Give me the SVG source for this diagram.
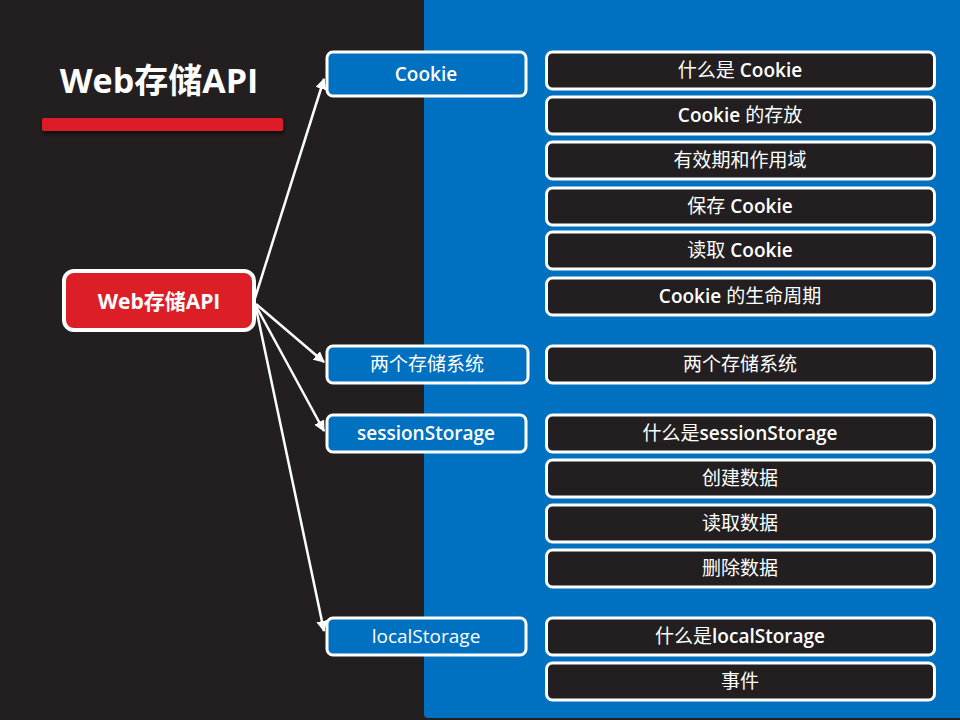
<svg xmlns="http://www.w3.org/2000/svg" width="960" height="720" viewBox="0 0 960 720">
<defs>
<style>
.t{font-family:"Open Sans","Noto Sans CJK SC",sans-serif;fill:#fff;text-anchor:middle;font-size:19px}
.b{font-weight:600}
.bn rect{fill:#0070C0;stroke:#fff;stroke-width:3}
.kn rect{fill:#231F20;stroke:#fff;stroke-width:3}
.conn line{stroke:#fff;stroke-width:2.5;marker-end:url(#ah)}
</style>
<marker id="ah" viewBox="0 0 10 10" refX="9" refY="5" markerWidth="4.5" markerHeight="4.5" orient="auto" markerUnits="strokeWidth">
<path d="M0,0 L10,5 L0,10 z" fill="#fff"/>
</marker>
<filter id="sh" x="-10%" y="-50%" width="120%" height="250%">
<feDropShadow dx="1" dy="3" stdDeviation="2" flood-color="#000" flood-opacity="0.6"/>
</filter>
</defs>
<rect width="960" height="720" fill="#231F20"/>
<rect x="424" y="-10" width="546" height="728" rx="4" fill="#0070C0"/>

<g id="title">
<text x="159" y="93" class="t" style="font-size:34px;font-weight:700">Web存储API</text>
<rect x="42" y="118" width="241" height="13" rx="2" fill="#DC1F26" filter="url(#sh)"/>
</g>

<g class="conn">
<line x1="255" y1="298" x2="324" y2="79"/>
<line x1="256" y1="304" x2="324" y2="362"/>
<line x1="256" y1="306" x2="324" y2="431"/>
<line x1="256" y1="308" x2="324" y2="631"/>
</g>

<g id="root">
<rect x="64" y="271" width="190" height="59" rx="10" fill="#DC1F26" stroke="#fff" stroke-width="4"/>
<text x="159" y="309" class="t" style="font-size:21px;font-weight:700">Web存储API</text>
</g>

<g id="cookie" class="bn"><rect x="327" y="52" width="199" height="44" rx="6"/><text x="426" y="81" class="t b">Cookie</text></g>
<g id="two" class="bn"><rect x="327" y="346" width="201" height="37" rx="6"/><text x="427" y="371" class="t">两个存储系统</text></g>
<g id="session" class="bn"><rect x="327" y="415" width="199" height="37" rx="6"/><text x="426" y="440" class="t b">sessionStorage</text></g>
<g id="local" class="bn"><rect x="327" y="618" width="199" height="37" rx="6"/><text x="426" y="643" class="t">localStorage</text></g>

<g id="k1" class="kn"><rect x="546.5" y="52" width="388" height="37" rx="6"/><text x="740" y="77" class="t">什么是 <tspan class="b">Cookie</tspan></text></g>
<g id="k2" class="kn"><rect x="546.5" y="97" width="388" height="37" rx="6"/><text x="740" y="122" class="t"><tspan class="b">Cookie</tspan> 的存放</text></g>
<g id="k3" class="kn"><rect x="546.5" y="142" width="388" height="37" rx="6"/><text x="740" y="167" class="t">有效期和作用域</text></g>
<g id="k4" class="kn"><rect x="546.5" y="188" width="388" height="37" rx="6"/><text x="740" y="213" class="t">保存 <tspan class="b">Cookie</tspan></text></g>
<g id="k5" class="kn"><rect x="546.5" y="232" width="388" height="37" rx="6"/><text x="740" y="257" class="t">读取 <tspan class="b">Cookie</tspan></text></g>
<g id="k6" class="kn"><rect x="546.5" y="278" width="388" height="37" rx="6"/><text x="740" y="303" class="t"><tspan class="b">Cookie</tspan> 的生命周期</text></g>
<g id="k7" class="kn"><rect x="546.5" y="346" width="388" height="37" rx="6"/><text x="740" y="371" class="t">两个存储系统</text></g>
<g id="k8" class="kn"><rect x="546.5" y="415" width="388" height="37" rx="6"/><text x="740" y="440" class="t">什么是<tspan class="b">sessionStorage</tspan></text></g>
<g id="k9" class="kn"><rect x="546.5" y="460" width="388" height="37" rx="6"/><text x="740" y="485" class="t">创建数据</text></g>
<g id="k10" class="kn"><rect x="546.5" y="505" width="388" height="37" rx="6"/><text x="740" y="530" class="t">读取数据</text></g>
<g id="k11" class="kn"><rect x="546.5" y="550" width="388" height="37" rx="6"/><text x="740" y="575" class="t">删除数据</text></g>
<g id="k12" class="kn"><rect x="546.5" y="618" width="388" height="37" rx="6"/><text x="740" y="643" class="t">什么是<tspan class="b">localStorage</tspan></text></g>
<g id="k13" class="kn"><rect x="546.5" y="663" width="388" height="37" rx="6"/><text x="740" y="688" class="t">事件</text></g>
</svg>
